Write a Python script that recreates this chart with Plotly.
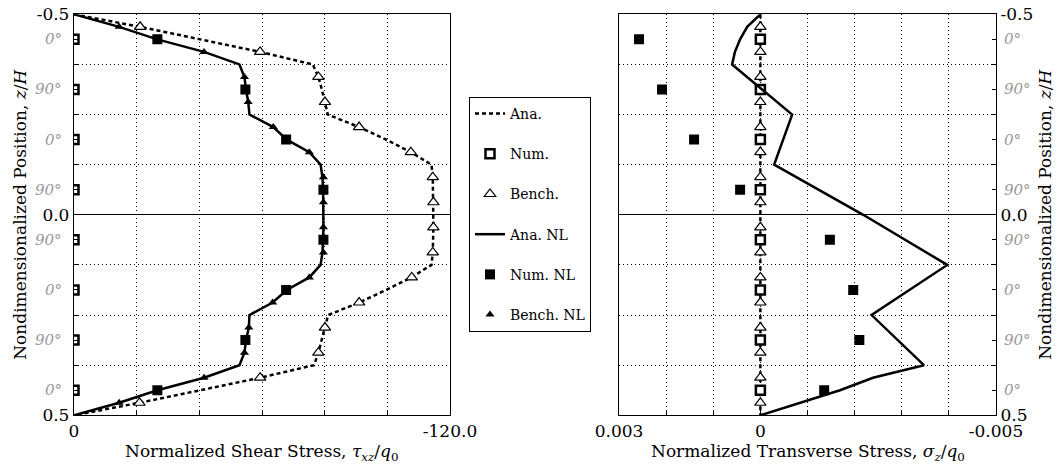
import plotly.graph_objects as go

FONT = "DejaVu Serif"

# ---- through-thickness positions (z/H) ----
z_fine = [-0.5, -0.46875, -0.4375, -0.40625, -0.375, -0.34375, -0.3125, -0.28125,
          -0.25, -0.21875, -0.1875, -0.15625, -0.125, -0.09375, -0.0625, -0.03125,
          0.0, 0.03125, 0.0625, 0.09375, 0.125, 0.15625, 0.1875, 0.21875,
          0.25, 0.28125, 0.3125, 0.34375, 0.375, 0.40625, 0.4375, 0.46875, 0.5]
z_centers = [-0.4375, -0.3125, -0.1875, -0.0625, 0.0625, 0.1875, 0.3125, 0.4375]
z_quarters = [-0.46875, -0.40625, -0.34375, -0.28125, -0.21875, -0.15625, -0.09375, -0.03125,
              0.03125, 0.09375, 0.15625, 0.21875, 0.28125, 0.34375, 0.40625, 0.46875]
z_ticks = [-0.5, -0.375, -0.25, -0.125, 0.0, 0.125, 0.25, 0.375, 0.5]
z_ticktext = ["-0.5", "", "", "", "0.0", "", "", "", "0.5"]
layer_angles = ["0°", "90°", "0°", "90°", "90°", "0°", "90°", "0°"]

# ---- shear stress tau_xz / q0 ----
shear_ana = [0.0, -21.1, -40.3, -59.4, -76.2, -78.0, -79.1, -80.1,
             -81.0, -91.0, -99.6, -107.5, -114.1, -114.5, -114.6, -114.7,
             -114.8, -114.7, -114.6, -114.5, -114.1, -107.6, -99.6, -91.0,
             -81.1, -80.1, -79.1, -78.0, -76.6, -59.4, -40.3, -20.9, 0.0]
shear_num = [0.0, 0.0, 0.0, 0.0, 0.0, 0.0, 0.0, 0.0]
shear_bench = [-21.1, -59.4, -78.0, -80.1, -91.0, -107.5, -114.5, -114.7,
               -114.7, -114.5, -107.8, -91.0, -80.1, -78.0, -59.4, -20.9]
shear_ana_nl = [0.0, -14.4, -26.6, -41.5, -52.8, -54.4, -54.9, -55.6,
                -56.0, -63.6, -67.9, -75.1, -78.7, -79.3, -79.5, -79.6,
                -79.6, -79.6, -79.5, -79.3, -78.7, -75.1, -67.9, -63.4,
                -56.0, -55.8, -54.9, -54.4, -52.8, -41.5, -26.6, -14.4, 0.0]
shear_num_nl = [-26.6, -54.7, -67.7, -79.6, -79.6, -67.7, -54.7, -26.6]
shear_bench_nl = [-14.4, -41.5, -54.4, -55.6, -63.6, -75.1, -79.6, -79.6,
                  -79.6, -79.6, -75.1, -63.4, -55.8, -54.4, -41.5, -14.4]
shear_ticks = [0, -20, -40, -60, -80, -100, -120]
shear_ticktext = ["0", "", "", "", "", "", "-120.0"]

# ---- transverse stress sigma_z / q0 ----
trans_ana_z = [-0.5, 0.5]
trans_ana = [0.0, 0.0]
trans_num = [0.0, 0.0, 0.0, 0.0, 0.0, 0.0, 0.0, 0.0]
trans_bench = [0.0] * 16
trans_ana_nl_z = [-0.5, -0.46875, -0.4375, -0.40625, -0.375, -0.25, -0.125, 0.0,
                  0.125, 0.25, 0.375, 0.40625, 0.4375, 0.46875, 0.5]
trans_ana_nl = [0.0, 0.00028, 0.00043, 0.00054, 0.0006, -0.000674, -0.000292, -0.002182,
                -0.003966, -0.00236, -0.00347, -0.00239, -0.00169, -0.00087, 0.0]
trans_num_nl = [0.002575, 0.002087, 0.001407, 0.00043, -0.001475, -0.00197, -0.0021, -0.001354]
trans_ticks = [0.003, 0.002, 0.001, 0.0, -0.001, -0.002, -0.003, -0.004, -0.005]
trans_ticktext = ["0.003", "", "", "0", "", "", "", "", "-0.005"]

# ---- styles ----
dash_line = dict(color="black", width=2.5, dash="4px,3px")
solid_line = dict(color="black", width=2.5)
open_sq = dict(symbol="square", size=9, color="white", line=dict(color="black", width=2.5))
open_tri = dict(symbol="triangle-up", size=10, color="white", line=dict(color="black", width=1.2))
fill_sq = dict(symbol="square", size=10, color="black", line=dict(width=0))
fill_tri = dict(symbol="triangle-up", size=8, color="black", line=dict(width=0))

fig = go.Figure()

def add(name, x, y, mode, xa, ya, show, **kw):
    fig.add_trace(go.Scatter(x=x, y=y, mode=mode, name=name, legendgroup=name,
                             showlegend=show, xaxis=xa, yaxis=ya, cliponaxis=True, **kw))

# left panel: shear stress
add("Ana.", shear_ana, z_fine, "lines", "x", "y", True, line=dash_line)
add("Num.", shear_num, z_centers, "markers", "x", "y", True, marker=open_sq)
add("Bench.", shear_bench, z_quarters, "markers", "x", "y", True, marker=open_tri)
add("Ana. NL", shear_ana_nl, z_fine, "lines", "x", "y", True, line=solid_line)
add("Num. NL", shear_num_nl, z_centers, "markers", "x", "y", True, marker=fill_sq)
add("Bench. NL", shear_bench_nl, z_quarters, "markers", "x", "y", True, marker=fill_tri)

# right panel: transverse stress
add("Ana.", trans_ana, trans_ana_z, "lines", "x2", "y2", False, line=dash_line)
add("Num.", trans_num, z_centers, "markers", "x2", "y2", False, marker=open_sq)
add("Bench.", trans_bench, z_quarters, "markers", "x2", "y2", False, marker=open_tri)
add("Ana. NL", trans_ana_nl, trans_ana_nl_z, "lines", "x2", "y2", False, line=solid_line)
add("Num. NL", trans_num_nl, z_centers, "markers", "x2", "y2", False, marker=fill_sq)

W, H = 1057, 467
left_dom = [74 / W, 450 / W]
right_dom = [619 / W, 996 / W]
y_dom = [1 - 415.3 / H, 1 - 14.3 / H]

grid_dash = "1px,3px"
common_x = dict(showline=True, mirror=True, linecolor="black", linewidth=1.3,
                ticks="inside", ticklen=5, tickcolor="black", tickmode="array",
                showgrid=True, gridcolor="black", griddash=grid_dash, gridwidth=1,
                zeroline=False, automargin=False,
                tickfont=dict(family=FONT, size=17, color="black"))
common_y = dict(showline=True, mirror=True, linecolor="black", linewidth=1.3,
                ticks="inside", ticklen=5, tickcolor="black", tickmode="array",
                tickvals=z_ticks, ticktext=z_ticktext, range=[0.5, -0.5],
                showgrid=True, gridcolor="black", griddash=grid_dash, gridwidth=1,
                zeroline=True, zerolinecolor="black", zerolinewidth=1.2, automargin=False,
                minor=dict(tickvals=z_centers, ticks="inside", ticklen=4,
                           tickcolor="black", showgrid=False),
                tickfont=dict(family=FONT, size=17, color="black"), domain=y_dom)

fig.update_layout(
    template="none",
    width=W, height=H, margin=dict(l=0, r=0, t=0, b=0, autoexpand=False),
    paper_bgcolor="white", plot_bgcolor="white",
    font=dict(family=FONT, size=17, color="black"),
    xaxis=dict(common_x, domain=left_dom, range=[0, -120], tickvals=shear_ticks,
               ticktext=shear_ticktext, anchor="y"),
    yaxis=dict(common_y, anchor="x", side="left"),
    xaxis2=dict(common_x, domain=right_dom, range=[0.003, -0.005], tickvals=trans_ticks,
                ticktext=trans_ticktext, anchor="y2"),
    yaxis2=dict(common_y, anchor="x2", side="right"),
    legend=dict(x=469 / W, y=1 - 97 / H, xanchor="left", yanchor="top",
                bordercolor="black", borderwidth=1, bgcolor="white",
                font=dict(family=FONT, size=14, color="black"),
                tracegroupgap=19, itemwidth=30, traceorder="grouped"),
    showlegend=True,
)

ann = []
gray = "#999999"
for zc, lab in zip(z_centers, layer_angles):
    ann.append(dict(x=64 / W, xref="paper", y=zc, yref="y", text=f"<i>{lab}</i>",
                    showarrow=False, xanchor="right", yanchor="middle",
                    font=dict(family=FONT, size=15, color=gray)))
    ann.append(dict(x=1002 / W, xref="paper", y=zc, yref="y2", text=f"<i>{lab}</i>",
                    showarrow=False, xanchor="left", yanchor="middle",
                    font=dict(family=FONT, size=15, color=gray)))

ytitle = "Nondimensionalized Position, <i>z</i>/<i>H</i>"
ann.append(dict(x=20 / W, xref="paper", y=sum(y_dom) / 2, yref="paper", text=ytitle,
                textangle=-90, showarrow=False, xanchor="center", yanchor="middle",
                font=dict(family=FONT, size=17)))
ann.append(dict(x=1045 / W, xref="paper", y=sum(y_dom) / 2, yref="paper", text=ytitle,
                textangle=-90, showarrow=False, xanchor="center", yanchor="middle",
                font=dict(family=FONT, size=17)))
ann.append(dict(x=sum(left_dom) / 2, xref="paper", y=1 - 452 / H, yref="paper",
                text="Normalized Shear Stress, <i>τ</i><sub><i>xz</i></sub>/<i>q</i><sub>0</sub>",
                showarrow=False, xanchor="center", yanchor="middle",
                font=dict(family=FONT, size=17)))
ann.append(dict(x=sum(right_dom) / 2, xref="paper", y=1 - 452 / H, yref="paper",
                text="Normalized Transverse Stress, <i>σ</i><sub><i>z</i></sub>/<i>q</i><sub>0</sub>",
                showarrow=False, xanchor="center", yanchor="middle",
                font=dict(family=FONT, size=17)))
fig.update_layout(annotations=ann)

fig.write_html("out.html")
